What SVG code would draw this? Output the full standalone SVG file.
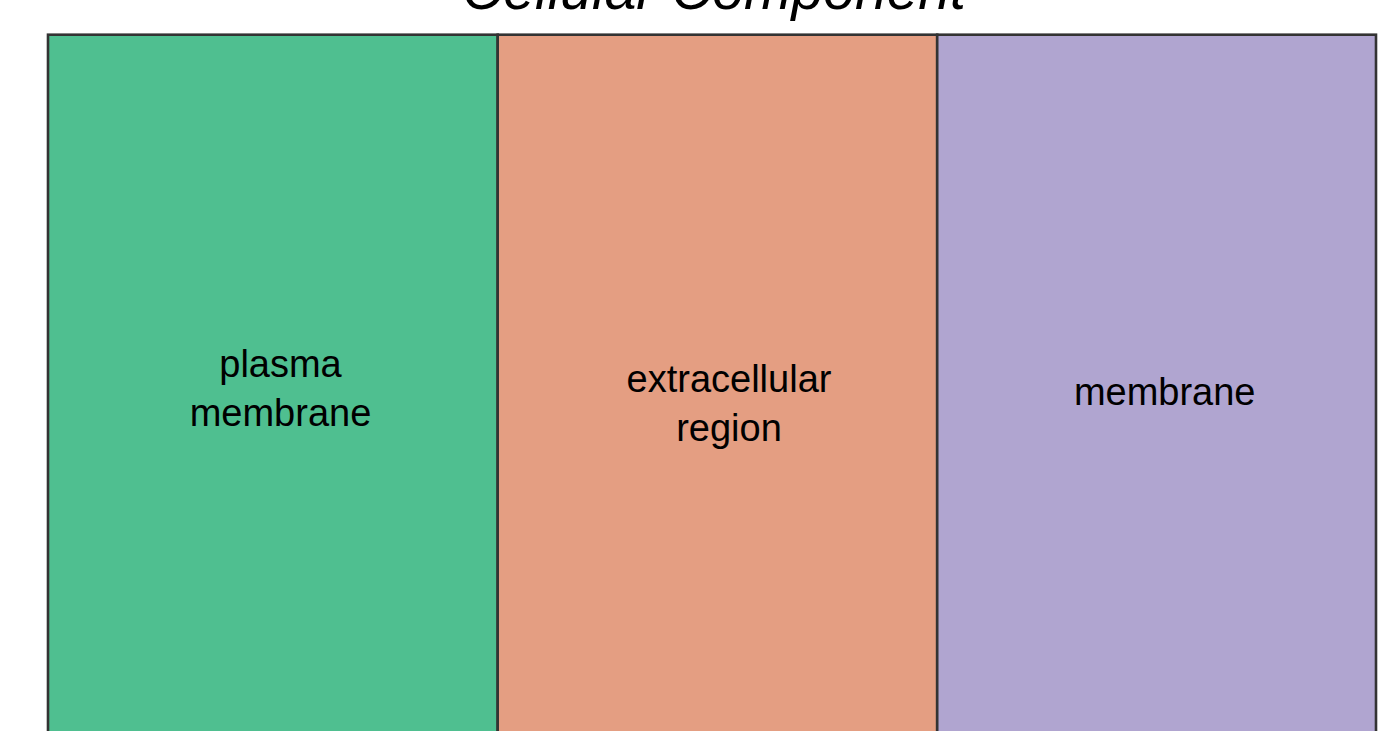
<svg xmlns="http://www.w3.org/2000/svg" width="1382" height="731" viewBox="0 0 1382 731">
<style>
.box{stroke:#333333;stroke-width:2.6}
.lbl{font-family:"Liberation Sans",Arial,sans-serif;font-size:38px;fill:#000000;text-anchor:middle}
.title{font-family:"Liberation Sans",Arial,sans-serif;font-size:57px;font-style:italic;fill:#000000;text-anchor:middle}
</style>
<rect width="1382" height="731" fill="#ffffff"/>
<text class="title" x="714" y="9">Cellular Component</text>
<g id="plasma-membrane">
<rect class="box" x="48" y="34.7" width="449.7" height="730" fill="#4FBF90"/>
<text class="lbl" x="280.5" y="377">plasma</text>
<text class="lbl" x="280.5" y="426">membrane</text>
</g>
<g id="extracellular-region">
<rect class="box" x="497.7" y="34.7" width="439.5" height="730" fill="#E49E82"/>
<text class="lbl" x="729" y="392">extracellular</text>
<text class="lbl" x="729" y="441">region</text>
</g>
<g id="membrane">
<rect class="box" x="937.2" y="34.7" width="438.8" height="730" fill="#B0A5D0"/>
<text class="lbl" x="1164.7" y="404.5">membrane</text>
</g>
<g id="connectors"/>
</svg>
